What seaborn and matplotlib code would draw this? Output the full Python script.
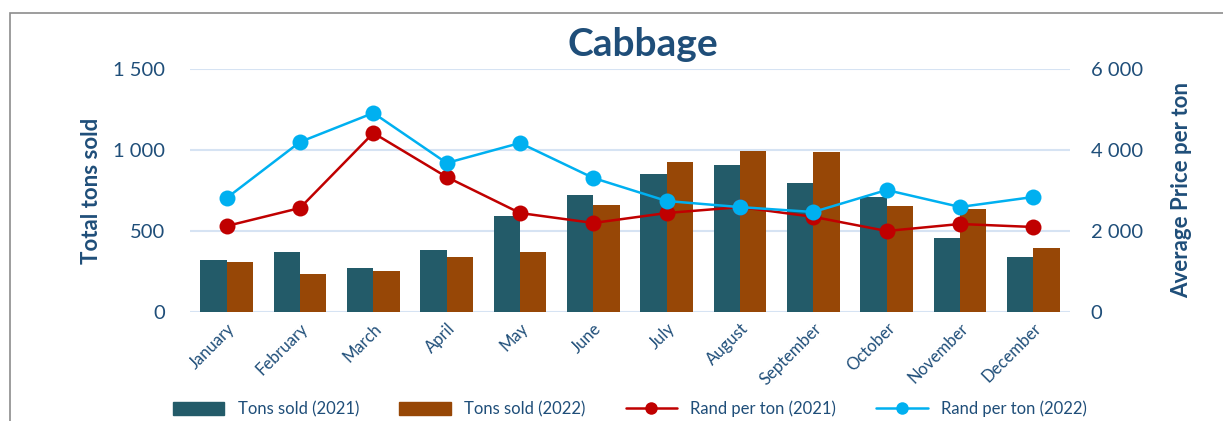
import pandas as pd
import seaborn as sns
import matplotlib.pyplot as plt
from matplotlib.patches import Rectangle
from matplotlib.ticker import FuncFormatter

# Data
months = ['January', 'February', 'March', 'April', 'May', 'June',
          'July', 'August', 'September', 'October', 'November', 'December']
tons_2021 = [321, 370, 272, 383, 593, 722, 852, 907, 796, 710, 457, 340]
tons_2022 = [309, 235, 253, 340, 370, 660, 926, 994, 988, 654, 636, 395]
rand_2021 = [2123, 2568, 4420, 3333, 2444, 2198, 2444, 2590, 2350, 2000, 2173, 2099]
rand_2022 = [2815, 4198, 4914, 3679, 4173, 3309, 2741, 2590, 2469, 3012, 2593, 2840]

navy = '#1F4E79'
bar_colors = {'Tons sold (2021)': '#235B69', 'Tons sold (2022)': '#974706'}

sns.set_style('white')
plt.rcParams['font.family'] = ['Lato', 'DejaVu Sans']

bars = pd.DataFrame({
    'Month': months * 2,
    'Tons': tons_2021 + tons_2022,
    'Series': ['Tons sold (2021)'] * 12 + ['Tons sold (2022)'] * 12,
})

fig = plt.figure(figsize=(12.23, 4.21), dpi=100)
ax = fig.add_axes([190 / 1223, 1 - 312 / 421, 880 / 1223, 243 / 421])

# Outer frame of the chart
fig.patches.append(Rectangle((10 / 1223, -0.1), 1.2, 1 - 13 / 421 + 0.1,
                             transform=fig.transFigure, fill=False,
                             edgecolor='#8c8c8c', linewidth=1.2))

sns.barplot(data=bars, x='Month', y='Tons', hue='Series', palette=bar_colors,
            width=0.72, gap=0, saturation=1, linewidth=0, ax=ax, legend=False)

ax.set_ylim(0, 1500)
ax.set_xlim(-0.5, 11.5)
ax.set_yticks([0, 500, 1000, 1500])
ax.yaxis.set_major_formatter(FuncFormatter(lambda v, p: f'{v:,.0f}'.replace(',', ' ')))
ax.grid(axis='y', color='#D6E3F3', linewidth=1.5)
ax.set_axisbelow(True)
for s in ax.spines.values():
    s.set_visible(False)
ax.tick_params(axis='y', length=0, labelsize=14.5, labelcolor=navy, pad=18)
ax.tick_params(axis='x', length=0, labelsize=12, labelcolor=navy, pad=6)
plt.setp(ax.get_xticklabels(), rotation=45, ha='right', rotation_mode='anchor')
ax.set_xlabel('')
ax.set_ylabel('Total tons sold', fontsize=16, fontweight='bold', color=navy, labelpad=8)

# Price lines on the secondary axis
ax2 = ax.twinx()
x_pos = list(range(len(months)))
sns.lineplot(x=x_pos, y=rand_2021, color='#C00000', marker='o', markersize=11.5,
             markeredgewidth=0, linewidth=1.8, ax=ax2, label='Rand per ton (2021)')
sns.lineplot(x=x_pos, y=rand_2022, color='#00B0F0', marker='o', markersize=11.5,
             markeredgewidth=0, linewidth=1.8, ax=ax2, label='Rand per ton (2022)')
ax2.set_ylim(0, 6000)
ax2.set_xlim(-0.5, 11.5)
ax2.set_yticks([0, 2000, 4000, 6000])
ax2.yaxis.set_major_formatter(FuncFormatter(lambda v, p: f'{v:,.0f}'.replace(',', ' ')))
for s in ax2.spines.values():
    s.set_visible(False)
ax2.tick_params(axis='y', length=0, labelsize=14.5, labelcolor=navy, pad=15)
ax2.set_ylabel('Average Price per ton', fontsize=16, fontweight='bold', color=navy, labelpad=20)
ax2.get_legend().remove()

fig.text(643 / 1223, 1 - 45 / 421, 'Cabbage', ha='center', va='center',
         fontsize=28, fontweight='bold', color=navy)

# Combined legend along the bottom
handles = [Rectangle((0, 0), 1, 1, color=c) for c in bar_colors.values()]
labels = list(bar_colors.keys())
h2, l2 = ax2.get_legend_handles_labels()
leg = fig.legend(handles + h2, labels + l2, loc='center', ncol=4,
                 bbox_to_anchor=(630 / 1223, 1 - 409 / 421), frameon=False,
                 fontsize=12, handlelength=3.1, handleheight=0.8,
                 columnspacing=2.4, handletextpad=0.8)
for t in leg.get_texts():
    t.set_color(navy)
for h in leg.legend_handles[2:]:
    h.set_markersize(9)

fig.savefig('out.png', dpi=100)
